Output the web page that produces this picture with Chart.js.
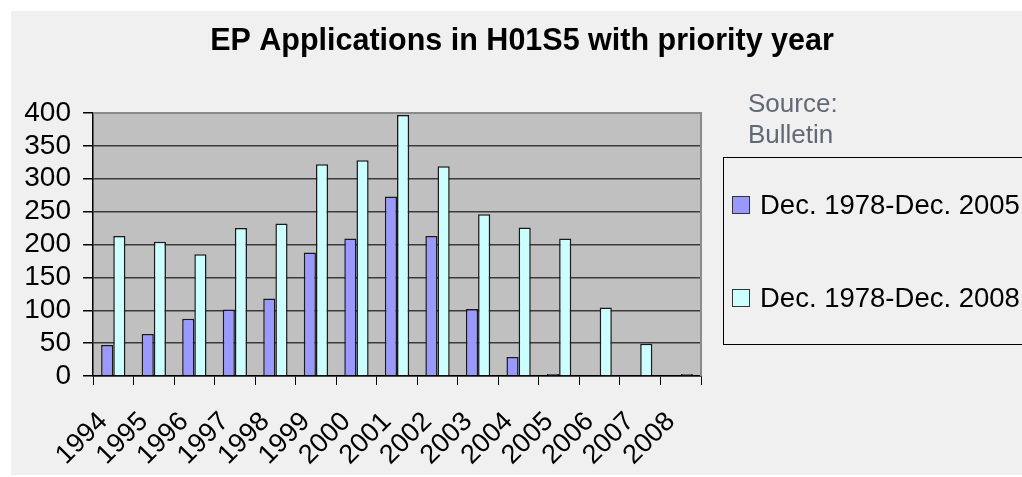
<!DOCTYPE html>
<html>
<head>
<meta charset="utf-8">
<script src="https://cdn.jsdelivr.net/npm/chart.js@4.4.1/dist/chart.umd.min.js"></script>
<style>
  html, body { margin: 0; padding: 0; background: #ffffff; }
  #wrap { width: 1022px; height: 477px; }
</style>
</head>
<body>
<div id="wrap"><canvas id="myChart" width="1022" height="477"></canvas></div>
<script>
// chart data
const years = ["1994", "1995", "1996", "1997", "1998", "1999", "2000", "2001",
  "2002", "2003", "2004", "2005", "2006", "2007", "2008"];
const upTo2005 = [47, 64, 87, 101, 118, 188, 209, 273, 213, 102, 29, 3, 0, 0, 0];
const upTo2008 = [213, 204, 185, 225, 232, 322, 328, 397, 319, 246, 226, 209, 104, 49, 3];
const seriesNames = ["Dec. 1978-Dec. 2005", "Dec. 1978-Dec. 2008"];
const yTicks = [0, 50, 100, 150, 200, 250, 300, 350, 400];
const titleText = "EP Applications in H01S5 with priority year";
const sourceLines = ["Source:", "Bulletin"];

const FONT = "'Liberation Sans', Arial, sans-serif";

// background, plot area, title, source note and boxed legend
const decorations = {
  id: "decorations",
  beforeDraw(chart) {
    const c = chart.ctx;
    const a = chart.chartArea;
    c.save();
    c.fillStyle = "#ffffff";
    c.fillRect(0, 0, chart.width, chart.height);
    c.fillStyle = "#f0f0f0";
    c.fillRect(11, 11, chart.width - 11, chart.height - 13);
    c.fillStyle = "#c0c0c0";
    c.fillRect(a.left, a.top, a.right - a.left, a.bottom - a.top);

    // title
    c.fillStyle = "#000000";
    c.font = "bold 30.5px " + FONT;
    c.textAlign = "center";
    c.textBaseline = "alphabetic";
    c.fillText(titleText, 522, 50);

    // source note
    c.fillStyle = "#606a74";
    c.font = "26px " + FONT;
    c.textAlign = "left";
    c.fillText(sourceLines[0], 748, 112);
    c.fillText(sourceLines[1], 748, 143);

    // legend box
    c.strokeStyle = "#000000";
    c.lineWidth = 1;
    c.strokeRect(723.5, 157.5, 320, 187);
    const rows = [205, 298];
    chart.data.datasets.forEach((ds, i) => {
      c.fillStyle = ds.backgroundColor;
      c.fillRect(732, rows[i] - 9, 18, 18);
      c.strokeStyle = "#333333";
      c.strokeRect(732.5, rows[i] - 8.5, 17, 17);
      c.fillStyle = "#000000";
      c.font = "27.5px " + FONT;
      c.textBaseline = "middle";
      c.fillText(ds.label, 760, rows[i] + 1);
    });
    c.restore();
  },
  afterDatasetsDraw(chart) {
    const c = chart.ctx;
    const a = chart.chartArea;
    c.save();
    c.strokeStyle = "#8a8a8a";
    c.lineWidth = 2;
    c.beginPath();
    c.moveTo(a.left, a.top);
    c.lineTo(a.right, a.top);
    c.lineTo(a.right, a.bottom);
    c.stroke();
    c.restore();
  }
};

const ctx = document.getElementById("myChart");
const myChart = new Chart(ctx, {
  type: "bar",
  data: {
    labels: years,
    datasets: [
      {
        label: seriesNames[0],
        data: upTo2005,
        backgroundColor: "#9999ff",
        borderColor: "#1a1a1a",
        borderWidth: 1.5,
        categoryPercentage: 0.6,
        barPercentage: 1.0
      },
      {
        label: seriesNames[1],
        data: upTo2008,
        backgroundColor: "#ccffff",
        borderColor: "#1a1a1a",
        borderWidth: 1.5,
        categoryPercentage: 0.6,
        barPercentage: 1.0
      }
    ]
  },
  options: {
    responsive: false,
    animation: false,
    layout: { padding: { top: 113, right: 321, bottom: 0, left: 0 } },
    plugins: {
      legend: { display: false },
      title: { display: false },
      tooltip: { enabled: false }
    },
    scales: {
      x: {
        offset: true,
        afterFit(scale) { scale.height = 101; },
        grid: {
          drawOnChartArea: false,
          drawTicks: true,
          tickLength: 9,
          color: "#000000",
          lineWidth: 1
        },
        border: { color: "#000000", width: 1.5 },
        ticks: {
          color: "#000000",
          font: { family: FONT, size: 27 },
          minRotation: 45,
          maxRotation: 45,
          autoSkip: false,
          padding: 21,
          labelOffset: -10
        }
      },
      y: {
        min: 0,
        max: 400,
        afterFit(scale) { scale.width = 93; },
        afterBuildTicks(scale) { scale.ticks = yTicks.map(v => ({ value: v })); },
        grid: {
          color: "#3a3a3a",
          lineWidth: 1.5,
          tickLength: 10,
          tickColor: "#000000"
        },
        border: { color: "#000000", width: 1.5 },
        ticks: {
          color: "#000000",
          font: { family: FONT, size: 28 },
          padding: 12,
          autoSkip: false,
          stepSize: 50
        }
      }
    }
  },
  plugins: [decorations]
});
</script>
</body>
</html>
